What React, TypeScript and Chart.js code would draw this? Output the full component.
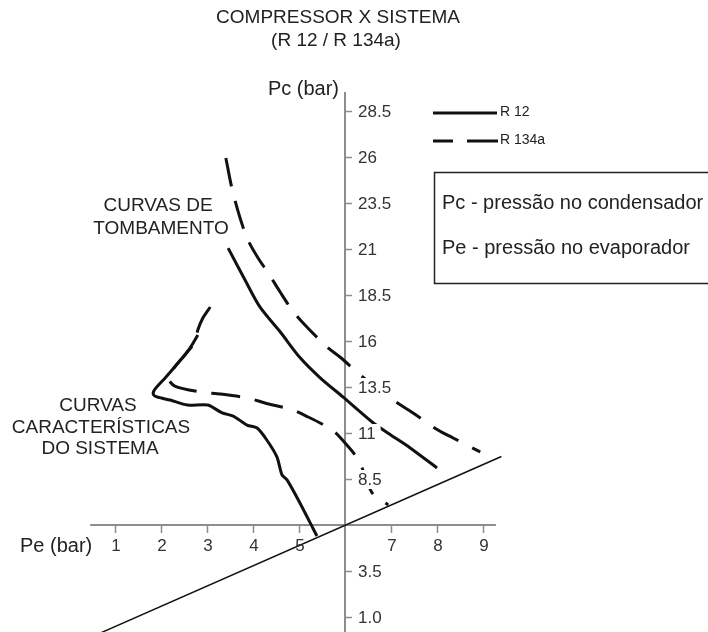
import { useEffect, useRef } from "react";
import { Chart, registerables } from "chart.js";

Chart.register(...registerables);

// ---- tick values / labels ----
const peTicks = [1, 2, 3, 4, 5, 7, 8, 9];
const peTickLabels = ["1", "2", "3", "4", "5", "7", "8", "9"];
const pcTicks = [1.0, 3.5, 8.5, 11, 13.5, 16, 18.5, 21, 23.5, 26, 28.5];
const pcTickLabels = ["1.0", "3.5", "8.5", "11", "13.5", "16", "18.5", "21", "23.5", "26", "28.5"];
const axisOrigin = [6, 6]; // [Pe, Pc] where the axes cross
const peAxisRange = [0.46, 9.28];
const pcAxisTop = 29.53;

// ---- curves ----
// Curva de tombamento R 12 (solid)
const r12TombPe = [3.46, 3.83, 4.15, 4.59, 5.02, 5.46, 5.96, 6.59, 6.93, 7.41, 8.0];
const r12TombPc = [21.05, 19.3, 17.85, 16.5, 15.1, 14.0, 12.95, 11.6, 11.0, 10.2, 9.1];
// Curva de tombamento R 134a (dashed)
const r134TombPe = [3.41, 3.54, 3.72, 3.89, 4.11, 4.33, 4.59, 4.85, 5.13, 5.61, 5.89, 6.39, 6.98, 7.48, 8.02, 8.35, 8.94];
const r134TombPc = [25.95, 24.32, 22.68, 21.49, 20.51, 19.7, 18.66, 17.68, 16.87, 15.67, 15.13, 14.04, 12.9, 12.09, 11.16, 10.73, 9.97];
// Curva característica do sistema R 12 (solid)
const r12SysPe = [2.8, 2.63, 2.37, 2.09, 1.87, 1.83, 1.91, 2.2, 2.57, 3.02, 3.33, 3.57, 3.87, 4.09, 4.3, 4.52, 4.63, 4.74, 5.02, 5.3, 5.39];
const r12SysPc = [16.33, 15.62, 14.8, 13.99, 13.39, 13.12, 12.96, 12.79, 12.52, 12.52, 12.09, 11.92, 11.43, 11.27, 10.62, 9.7, 8.72, 8.45, 7.2, 5.84, 5.4];
// Curva característica do sistema R 134a (dashed)
const r134SysPe = [3.07, 2.91, 2.8, 2.74, 2.52, 2.28, 2.15, 2.3, 2.85, 3.28, 3.89, 4.26, 4.87, 5.2, 5.5, 5.78, 6.04, 6.22, 6.37, 6.59, 6.94];
const r134SysPc = [17.85, 17.25, 16.6, 15.95, 15.24, 14.53, 13.99, 13.55, 13.23, 13.12, 12.9, 12.63, 12.25, 11.87, 11.49, 11.05, 10.35, 9.8, 9.1, 7.74, 7.09];
// Reta de referência
const diagPe = [0.7, 9.4];
const diagPc = [0.15, 9.72];

const seriesLabels = ["R 12", "R 134a"];
const titleLines = ["COMPRESSOR X SISTEMA", "(R 12 / R 134a)"];
const noteLines = ["Pc - pressão no condensador", "Pe - pressão no evaporador"];

const pts = (xs: number[], ys: number[]) => xs.map((x, i) => ({ x, y: ys[i] }));

const FONT = '"Liberation Sans", Arial, sans-serif';

const decoPlugin = {
  id: "deco",
  beforeDatasetsDraw(chart: any) {
    const ctx = chart.ctx as CanvasRenderingContext2D;
    const xs = chart.scales.x;
    const ys = chart.scales.y;
    const ox = xs.getPixelForValue(axisOrigin[0]);
    const oy = ys.getPixelForValue(axisOrigin[1]);
    ctx.save();
    ctx.strokeStyle = "#8d8d8d";
    ctx.lineWidth = 2;
    ctx.beginPath();
    ctx.moveTo(ox, ys.getPixelForValue(pcAxisTop));
    ctx.lineTo(ox, chart.height);
    ctx.moveTo(xs.getPixelForValue(peAxisRange[0]), oy);
    ctx.lineTo(xs.getPixelForValue(peAxisRange[1]), oy);
    ctx.stroke();
    ctx.lineWidth = 1.5;
    ctx.beginPath();
    pcTicks.forEach((v) => {
      const y = Math.round(ys.getPixelForValue(v)) + 0.5;
      ctx.moveTo(ox, y);
      ctx.lineTo(ox + 7, y);
    });
    peTicks.forEach((v) => {
      const x = Math.round(xs.getPixelForValue(v)) + 0.5;
      ctx.moveTo(x, oy);
      ctx.lineTo(x, oy + 8);
    });
    ctx.stroke();
    ctx.restore();
  },
  afterDatasetsDraw(chart: any) {
    const ctx = chart.ctx as CanvasRenderingContext2D;
    const xs = chart.scales.x;
    const ys = chart.scales.y;
    const ox = xs.getPixelForValue(axisOrigin[0]);
    const oy = ys.getPixelForValue(axisOrigin[1]);
    ctx.save();
    ctx.font = `17px ${FONT}`;
    ctx.textBaseline = "middle";
    ctx.textAlign = "left";
    pcTicks.forEach((v, i) => {
      const y = ys.getPixelForValue(v) + 1;
      const w = ctx.measureText(pcTickLabels[i]).width;
      ctx.fillStyle = "#fff";
      ctx.fillRect(ox + 10, y - 10, w + 8, 19);
      ctx.fillStyle = "#333";
      ctx.fillText(pcTickLabels[i], ox + 13, y);
    });
    ctx.textAlign = "center";
    peTicks.forEach((v, i) => {
      ctx.fillStyle = "#333";
      ctx.fillText(peTickLabels[i], xs.getPixelForValue(v) + 1, oy + 21);
    });
    ctx.restore();
  },
  afterDraw(chart: any) {
    const ctx = chart.ctx as CanvasRenderingContext2D;
    ctx.save();
    ctx.fillStyle = "#222";
    ctx.textBaseline = "middle";
    // title
    ctx.font = `19px ${FONT}`;
    ctx.textAlign = "center";
    ctx.fillText(titleLines[0], 338, 18);
    ctx.fillText(titleLines[1], 336, 41);
    // axis names
    ctx.font = `20px ${FONT}`;
    ctx.textAlign = "right";
    ctx.fillText("Pc (bar)", 339, 89);
    ctx.textAlign = "left";
    ctx.fillText("Pe (bar)", 20, 546);
    // curve labels
    ctx.font = `19px ${FONT}`;
    ctx.textAlign = "center";
    ctx.fillText("CURVAS DE", 158, 206);
    ctx.fillText("TOMBAMENTO", 161, 229);
    ctx.fillText("CURVAS", 98, 406);
    ctx.fillText("CARACTERÍSTICAS", 101, 428);
    ctx.fillText("DO SISTEMA", 100, 449);
    // legend
    ctx.strokeStyle = "#111";
    ctx.lineWidth = 3;
    ctx.beginPath();
    ctx.moveTo(433, 113);
    ctx.lineTo(497, 113);
    ctx.stroke();
    ctx.setLineDash([20, 14, 32, 0]);
    ctx.beginPath();
    ctx.moveTo(433, 141);
    ctx.lineTo(498, 141);
    ctx.stroke();
    ctx.setLineDash([]);
    ctx.font = `14px ${FONT}`;
    ctx.textAlign = "left";
    ctx.fillText(seriesLabels[0], 500, 112);
    ctx.fillText(seriesLabels[1], 500, 140);
    // note box
    ctx.lineWidth = 1.5;
    ctx.strokeStyle = "#222";
    ctx.strokeRect(434.5, 172.5, 300, 111);
    ctx.font = `20px ${FONT}`;
    ctx.fillText(noteLines[0], 442, 203);
    ctx.fillText(noteLines[1], 442, 248);
    ctx.restore();
  },
};

export default function App() {
  const ref = useRef<HTMLCanvasElement | null>(null);
  useEffect(() => {
    document.body.style.margin = "0";
    document.body.style.background = "#fff";
    const canvas = ref.current;
    if (!canvas) return;
    const common = {
      showLine: true,
      pointRadius: 0,
      borderColor: "#111",
      backgroundColor: "#111",
      fill: false,
      borderCapStyle: "butt" as const,
    };
    const chart = new Chart(canvas, {
      type: "scatter",
      data: {
        datasets: [
          { ...common, label: "diag", data: pts(diagPe, diagPc), borderWidth: 1.5, clip: false as any },
          { ...common, label: seriesLabels[0] + " tombamento", data: pts(r12TombPe, r12TombPc), borderWidth: 3, tension: 0.3 },
          { ...common, label: seriesLabels[1] + " tombamento", data: pts(r134TombPe, r134TombPc), borderWidth: 3, tension: 0.3, borderDash: [29, 15] },
          { ...common, label: seriesLabels[0] + " sistema", data: pts(r12SysPe, r12SysPc), borderWidth: 3, tension: 0.25 },
          { ...common, label: seriesLabels[1] + " sistema", data: pts(r134SysPe, r134SysPc), borderWidth: 3, tension: 0.25, borderDash: [29, 15] },
        ],
      },
      options: {
        animation: false,
        responsive: false,
        devicePixelRatio: 1,
        layout: { padding: { left: 69, right: 179, top: 65, bottom: 15 } },
        scales: {
          x: { type: "linear", min: 0, max: 10, display: false },
          y: { type: "linear", min: 1, max: 31, display: false },
        },
        plugins: { legend: { display: false }, tooltip: { enabled: false }, title: { display: false } },
        events: [],
      },
      plugins: [decoPlugin],
    });
    return () => chart.destroy();
  }, []);
  return <canvas ref={ref} width={708} height={632} style={{ display: "block" }} />;
}
